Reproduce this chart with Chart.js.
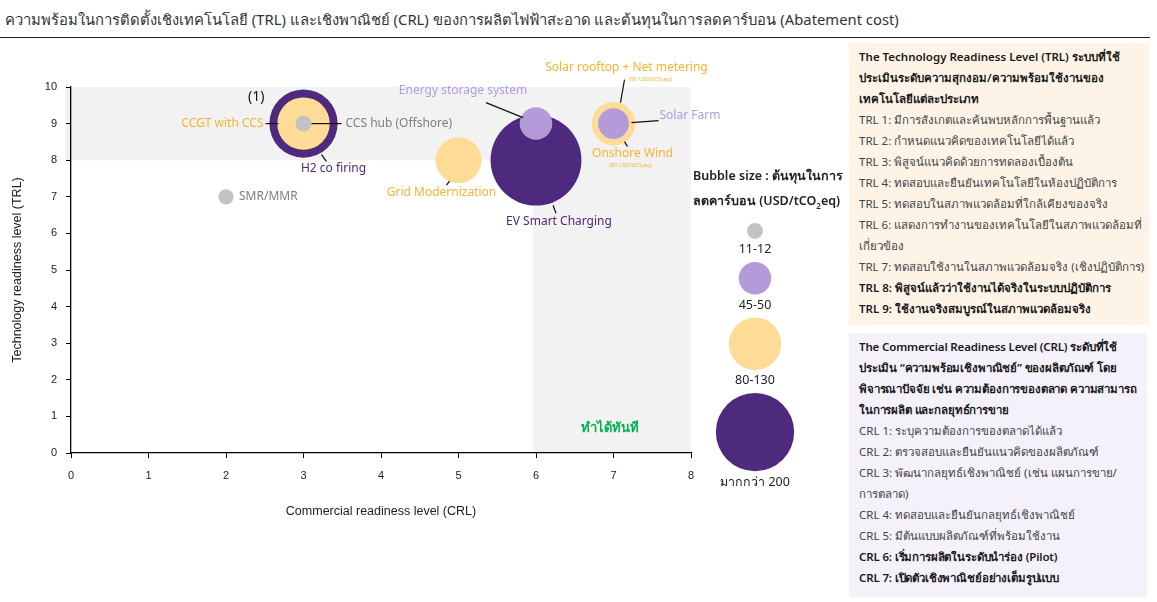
<!DOCTYPE html>
<html>
<head>
<meta charset="utf-8">
<script src="https://cdn.jsdelivr.net/npm/chart.js@4.4.1/dist/chart.umd.min.js"></script>
<style>
body{margin:0;width:1157px;height:602px;position:relative;background:#fff;overflow:hidden;font-family:"Noto Sans",sans-serif;}
#title{position:absolute;left:5px;top:8px;font-size:14.8px;color:#333;white-space:nowrap;}
#rule{position:absolute;left:0;top:37px;width:1150px;border-top:1.5px solid #222;}
canvas{position:absolute;}
.panel{position:absolute;font-size:11.5px;line-height:21px;color:#444;padding:3px 0 0 10px;box-sizing:border-box;white-space:nowrap;}
.panel b{color:#1a1a1a;font-weight:600;}
#trl{left:849px;top:43px;width:300px;height:282px;background:#fdf4e7;}
#crl{left:849px;top:333px;width:298px;height:264px;background:#f4f1fa;}
#crl b{letter-spacing:-0.15px;}
#bubtitle{position:absolute;left:693px;top:163px;font-size:12.5px;line-height:25px;color:#222;font-weight:600;white-space:nowrap;}
#note1{position:absolute;left:248px;top:86px;font-size:14px;color:#111;}
#now{position:absolute;left:581px;top:417px;font-size:13px;color:#00b050;font-weight:700;}
</style>
</head>
<body>
<div id="title">ความพร้อมในการติดตั้งเชิงเทคโนโลยี (TRL) และเชิงพาณิชย์ (CRL) ของการผลิตไฟฟ้าสะอาด และต้นทุนในการลดคาร์บอน (Abatement cost)</div>
<div id="rule"></div>
<canvas id="main" width="1157" height="602"></canvas>
<canvas id="legend" width="160" height="310" style="left:675px;top:210px;"></canvas>
<div id="note1">(1)</div>
<div id="now">ทำได้ทันที</div>
<div id="bubtitle">Bubble size : ต้นทุนในการ<br>ลดคาร์บอน (USD/tCO<sub style="font-size:8px">2</sub>eq)</div>
<div class="panel" id="trl">
<b>The Technology Readiness Level (TRL) ระบบที่ใช้</b><br>
<b>ประเมินระดับความสุกงอม/ความพร้อมใช้งานของ</b><br>
<b>เทคโนโลยีแต่ละประเภท</b><br>
TRL 1: มีการสังเกตและค้นพบหลักการพื้นฐานแล้ว<br>
TRL 2: กำหนดแนวคิดของเทคโนโลยีได้แล้ว<br>
TRL 3: พิสูจน์แนวคิดด้วยการทดลองเบื้องต้น<br>
TRL 4: ทดสอบและยืนยันเทคโนโลยีในห้องปฏิบัติการ<br>
TRL 5: ทดสอบในสภาพแวดล้อมที่ใกล้เคียงของจริง<br>
TRL 6: แสดงการทำงานของเทคโนโลยีในสภาพแวดล้อมที่<br>
เกี่ยวข้อง<br>
TRL 7: ทดสอบใช้งานในสภาพแวดล้อมจริง (เชิงปฏิบัติการ)<br>
<b>TRL 8: พิสูจน์แล้วว่าใช้งานได้จริงในระบบปฏิบัติการ</b><br>
<b>TRL 9: ใช้งานจริงสมบูรณ์ในสภาพแวดล้อมจริง</b>
</div>
<div class="panel" id="crl">
<b>The Commercial Readiness Level (CRL) ระดับที่ใช้</b><br>
<b>ประเมิน “ความพร้อมเชิงพาณิชย์” ของผลิตภัณฑ์ โดย</b><br>
<b>พิจารณาปัจจัย เช่น ความต้องการของตลาด ความสามารถ</b><br>
<b>ในการผลิต และกลยุทธ์การขาย</b><br>
CRL 1: ระบุความต้องการของตลาดได้แล้ว<br>
CRL 2: ตรวจสอบและยืนยันแนวคิดของผลิตภัณฑ์<br>
CRL 3: พัฒนากลยุทธ์เชิงพาณิชย์ (เช่น แผนการขาย/<br>
การตลาด)<br>
CRL 4: ทดสอบและยืนยันกลยุทธ์เชิงพาณิชย์<br>
CRL 5: มีต้นแบบผลิตภัณฑ์ที่พร้อมใช้งาน<br>
<b>CRL 6: เริ่มการผลิตในระดับนำร่อง (Pilot)</b><br>
<b>CRL 7: เปิดตัวเชิงพาณิชย์อย่างเต็มรูปแบบ</b>
</div>
<script>
// technologies, drawn in this order (big ones first so small ones sit on top)
const techNames = ['SMR/MMR', 'H2 co firing', 'CCGT with CCS', 'CCS hub (Offshore)', 'Grid Modernization',
    'EV Smart Charging', 'Energy storage system', 'Solar rooftop + Net metering', 'Onshore Wind', 'Solar Farm'];
const crlLevel = [2, 3, 3, 3, 5, 6, 6, 7, 7, 7];
const trlLevel = [7, 9, 9, 9, 8, 8, 9, 9, 9, 9];
const abatementCost = [11, 220, 130, 12, 100, 390, 50, 90, 80, 45]; // USD/tCO2eq

const legendLabels = ['11-12', '45-50', '80-130', 'มากกว่า 200'];
const legendCost = [12, 50, 130, 290];

const xTicks = [0, 1, 2, 3, 4, 5, 6, 7, 8];
const yTicks = [0, 1, 2, 3, 4, 5, 6, 7, 8, 9, 10];

const GREY = '#c3c3c3', LAV = '#b49ad9', YEL = '#fedc98', PUR = '#4e2a7e';

function costRadius(c) {
    return 2.3 * Math.sqrt(c);
}
function costColor(c) {
    if (c <= 12) return GREY;
    if (c <= 50) return LAV;
    if (c <= 130) return YEL;
    return PUR;
}

// label placement per point: offset from bubble centre (px), leader line
const labelStyle = [
    {dx: 13, dy: 0, align: 'left', color: '#7f7f7f'},
    {dx: 30, dy: 45, align: 'center', color: PUR, line: [18, 31, 23, 38]},
    {dx: -40, dy: 0, align: 'right', color: '#f9b233', line: [-38, 0, -25, 0]},
    {dx: 42, dy: 0, align: 'left', color: '#7f7f7f', line: [8, 0, 38, 0]},
    {dx: -17, dy: 32, align: 'center', color: '#f9b233', line: [-12, 25, -9, 21]},
    {dx: 23, dy: 61, align: 'center', color: PUR, line: [17, 45, 20, 53]},
    {dx: -73, dy: -33, align: 'center', color: '#b49be0', line: [-50, -21, -13, -6]},
    {dx: 13, dy: -56, align: 'center', color: '#f9b233', line: [11, -44, 7, -21], sub: '(90 USD/tCO₂eq)', subDx: 37, subDy: -44},
    {dx: 19, dy: 30, align: 'center', color: '#f9b233', line: [11, 18, 14, 23], sub: '(80 USD/tCO₂eq)', subDx: 17, subDy: 42},
    {dx: 46, dy: -8, align: 'left', color: '#b49be0', line: [18, -1, 45, -3]}
];

const bands = {
    id: 'bands',
    beforeDraw(chart) {
        const {ctx, scales: {x, y}} = chart;
        ctx.save();
        ctx.fillStyle = '#f2f2f2';
        ctx.fillRect(x.getPixelForValue(-0.08), y.getPixelForValue(10), x.getPixelForValue(8) - x.getPixelForValue(-0.08), y.getPixelForValue(8) - y.getPixelForValue(10));
        ctx.fillRect(x.getPixelForValue(5.96), y.getPixelForValue(8), x.getPixelForValue(8) - x.getPixelForValue(5.96), y.getPixelForValue(0) - y.getPixelForValue(8));
        ctx.restore();
    }
};

const bubbleLabels = {
    id: 'bubbleLabels',
    afterDatasetsDraw(chart) {
        const ctx = chart.ctx;
        const meta = chart.getDatasetMeta(0);
        ctx.save();
        ctx.textBaseline = 'middle';
        meta.data.forEach((pt, i) => {
            const s = labelStyle[i];
            if (s.line) {
                ctx.strokeStyle = '#111';
                ctx.lineWidth = 1.2;
                ctx.beginPath();
                ctx.moveTo(pt.x + s.line[0], pt.y + s.line[1]);
                ctx.lineTo(pt.x + s.line[2], pt.y + s.line[3]);
                ctx.stroke();
            }
            ctx.font = '12px "Noto Sans", sans-serif';
            ctx.fillStyle = s.color;
            ctx.textAlign = s.align;
            ctx.fillText(techNames[i], pt.x + s.dx, pt.y + s.dy);
            if (s.sub) {
                ctx.font = '5.5px "Noto Sans", sans-serif';
                ctx.textAlign = 'center';
                ctx.fillText(s.sub, pt.x + s.subDx, pt.y + s.subDy);
            }
        });
        ctx.restore();
    }
};

new Chart(document.getElementById('main'), {
    type: 'bubble',
    data: {
        datasets: [{
            data: techNames.map((n, i) => ({x: crlLevel[i], y: trlLevel[i], r: costRadius(abatementCost[i])})),
            backgroundColor: abatementCost.map(costColor),
            borderWidth: 0,
            hoverRadius: 0,
            clip: false
        }]
    },
    options: {
        responsive: false,
        animation: false,
        events: [],
        layout: {autoPadding: false, padding: {left: 0, top: 87, right: 466, bottom: 72}},
        plugins: {legend: {display: false}, tooltip: {enabled: false}},
        scales: {
            x: {
                type: 'linear', min: 0, max: 8,
                afterBuildTicks: s => { s.ticks = xTicks.map(v => ({value: v})); },
                afterFit: s => { s.height = 77; },
                ticks: {color: '#222', font: {family: 'Liberation Sans', size: 11}, padding: 11},
                grid: {drawOnChartArea: false, drawTicks: true, tickLength: 5, color: '#000'},
                border: {color: '#000', width: 1.3},
                title: {display: true, text: 'Commercial readiness level (CRL)', color: '#222',
                    font: {family: 'Liberation Sans', size: 12.5}, padding: {top: 0, bottom: 11}}
            },
            y: {
                type: 'linear', min: 0, max: 10,
                afterBuildTicks: s => { s.ticks = yTicks.map(v => ({value: v})); },
                afterFit: s => { s.width = 71; },
                ticks: {color: '#222', font: {family: 'Liberation Sans', size: 11}, padding: 9},
                grid: {drawOnChartArea: false, drawTicks: true, tickLength: 5, color: '#000'},
                border: {color: '#000', width: 1.3},
                title: {display: true, text: 'Technology readiness level (TRL)', color: '#222',
                    font: {family: 'Liberation Sans', size: 12.5}, padding: {top: 10, bottom: 0}}
            }
        }
    },
    plugins: [bands, bubbleLabels]
});

// size legend: bubbles stacked from top, label under each
const legendY = [];
let cursor = 13;
legendCost.forEach(c => {
    const r = costRadius(c);
    legendY.push(cursor + r);
    cursor += 2 * r + 23;
});

const legendText = {
    id: 'legendText',
    afterDatasetsDraw(chart) {
        const ctx = chart.ctx;
        ctx.save();
        ctx.font = '12.5px "Noto Sans", sans-serif';
        ctx.fillStyle = '#222';
        ctx.textAlign = 'center';
        ctx.textBaseline = 'middle';
        chart.getDatasetMeta(0).data.forEach((pt, i) => {
            ctx.fillText(legendLabels[i], pt.x, pt.y + costRadius(legendCost[i]) + 11);
        });
        ctx.restore();
    }
};

new Chart(document.getElementById('legend'), {
    type: 'bubble',
    data: {
        datasets: [{
            data: legendCost.map((c, i) => ({x: 80, y: legendY[i], r: costRadius(c)})),
            backgroundColor: legendCost.map(costColor),
            borderWidth: 0,
            hoverRadius: 0,
            clip: false
        }]
    },
    options: {
        responsive: false,
        animation: false,
        events: [],
        layout: {autoPadding: false},
        plugins: {legend: {display: false}, tooltip: {enabled: false}},
        scales: {
            x: {type: 'linear', min: 0, max: 160, display: false},
            y: {type: 'linear', min: 0, max: 310, reverse: true, display: false}
        }
    },
    plugins: [legendText]
});
</script>
</body>
</html>
